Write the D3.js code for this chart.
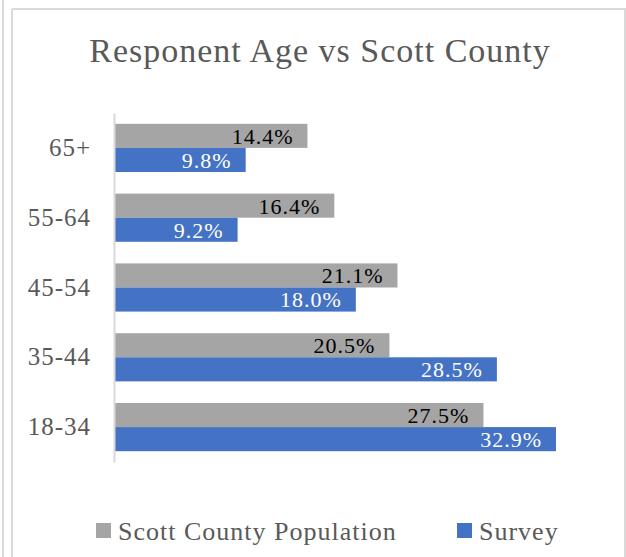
<!DOCTYPE html>
<html>
<head>
<meta charset="utf-8">
<script src="https://cdn.jsdelivr.net/npm/d3@7/dist/d3.min.js"></script>
<style>
  html, body { margin: 0; padding: 0; background: #fff; }
  svg { display: block; }
  text { font-family: "Liberation Serif", "DejaVu Serif", serif; }
</style>
</head>
<body>
<svg id="chart" width="626" height="557"></svg>
<script>
// Age groups, top to bottom
const categories = ["65+", "55-64", "45-54", "35-44", "18-34"];
const seriesNames = ["Scott County Population", "Survey"];
const countyValues = [14.4, 16.4, 21.1, 20.5, 27.5];
const surveyValues = [9.8, 9.2, 18.0, 28.5, 32.9];
const seriesColors = ["#a5a5a5", "#4472c4"];
const labelColors = ["#000000", "#ffffff"];

const W = 626, H = 557;
const svg = d3.select("#chart");

// outer frame lines
const frame = svg.append("g").attr("stroke", "#d9d9d9").attr("stroke-width", 2).attr("fill", "none");
frame.append("line").attr("x1", 3).attr("x2", 3).attr("y1", 0).attr("y2", H);
frame.append("line").attr("x1", 12).attr("x2", 12).attr("y1", 9).attr("y2", H);
frame.append("line").attr("x1", 12).attr("x2", W).attr("y1", 9).attr("y2", 9);
frame.append("line").attr("x1", 625).attr("x2", 625).attr("y1", 9).attr("y2", H);

// title
svg.append("text")
  .attr("x", 320).attr("y", 62)
  .attr("text-anchor", "middle")
  .attr("fill", "#595959")
  .style("font-size", "34px")
  .style("letter-spacing", "1px")
  .text("Responent Age vs Scott County");

const plot = { left: 114, top: 113, bottom: 462 };

const x = d3.scaleLinear().domain([0, 32.9]).range([plot.left, 556]);
const y = d3.scaleBand().domain(categories).range([plot.top, plot.bottom]).paddingInner(0.31).paddingOuter(0.155);
const ySub = d3.scaleBand().domain(seriesNames).range([0, y.bandwidth()]);

const rows = categories.map((c, i) => ({ cat: c, vals: [countyValues[i], surveyValues[i]] }));

// bars
const groups = svg.append("g").selectAll("g").data(rows).join("g")
  .attr("transform", d => `translate(0,${y(d.cat)})`);

groups.selectAll("rect").data(d => d.vals.map((v, j) => ({ v, j })))
  .join("rect")
  .attr("x", x(0))
  .attr("y", d => ySub(seriesNames[d.j]))
  .attr("width", d => x(d.v) - x(0))
  .attr("height", ySub.bandwidth())
  .attr("fill", d => seriesColors[d.j]);

// value labels inside bar ends
groups.selectAll("text").data(d => d.vals.map((v, j) => ({ v, j })))
  .join("text")
  .attr("x", d => x(d.v) - 14)
  .attr("y", d => ySub(seriesNames[d.j]) + ySub.bandwidth() / 2)
  .attr("dy", "0.36em")
  .attr("text-anchor", "end")
  .attr("fill", d => labelColors[d.j])
  .style("font-size", "22px")
  .style("letter-spacing", "1px")
  .text(d => d.v.toFixed(1) + "%");

// category axis
const yAxis = svg.append("g")
  .attr("transform", `translate(${plot.left},0)`)
  .call(d3.axisLeft(y).tickSize(0).tickPadding(23));
yAxis.select(".domain").attr("stroke", "#d9d9d9").attr("stroke-width", 2);
yAxis.selectAll("text")
  .attr("fill", "#595959")
  .style("font-size", "25px")
  .style("letter-spacing", "1px")
  .style("font-family", "'Liberation Serif', serif");

// legend
const legendX = [96, 457];
const legend = svg.append("g").selectAll("g").data(seriesNames).join("g")
  .attr("transform", (d, i) => `translate(${legendX[i]},523)`);
legend.append("rect").attr("width", 15).attr("height", 15).attr("fill", (d, i) => seriesColors[i]);
legend.append("text")
  .attr("x", 22).attr("y", 8).attr("dy", "0.36em")
  .attr("fill", "#595959")
  .style("font-size", "26px")
  .style("letter-spacing", "1px")
  .text(d => d);
</script>
</body>
</html>
